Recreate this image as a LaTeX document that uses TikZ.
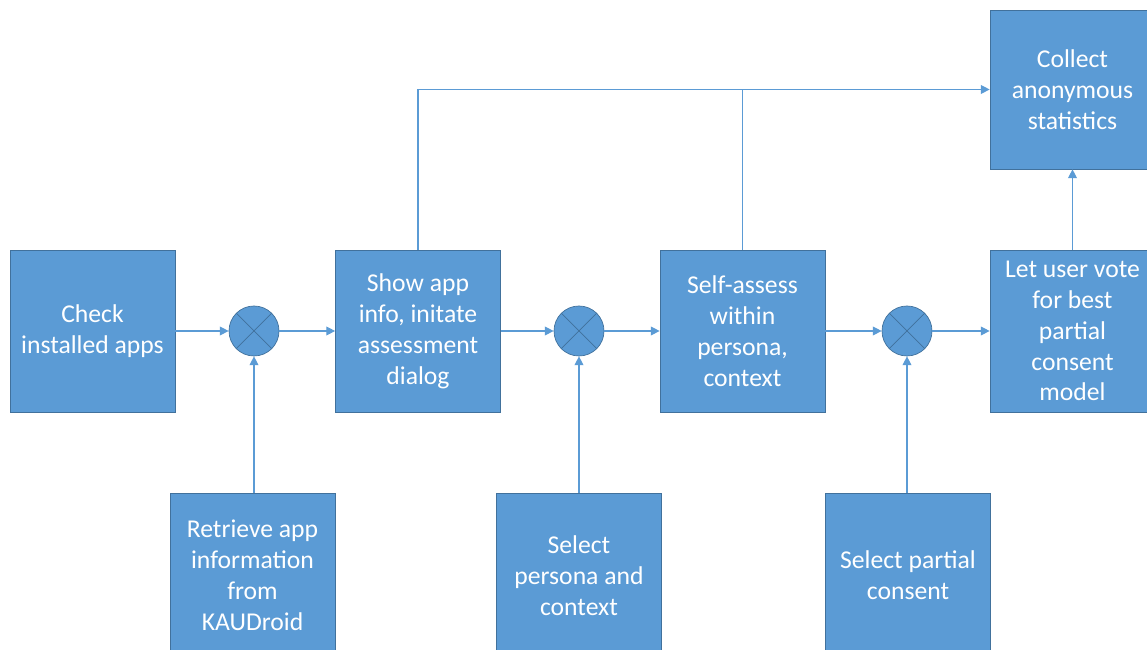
\documentclass[tikz,border=0pt]{standalone}
\usepackage{fontspec}
\setmainfont{Carlito}
\usetikzlibrary{arrows.meta}
\definecolor{boxblue}{HTML}{5B9BD5}
\definecolor{boxedge}{HTML}{41719C}
\tikzset{
  stepbox/.style={draw=boxedge, line width=0.4pt, fill=boxblue, text=white,
    minimum width=3.3cm, minimum height=3.24cm, align=center, inner sep=0pt,
    font=\fontsize{14.6}{17.6}\selectfont},
  mixer/.style={circle, draw=boxedge, line width=0.4pt, fill=boxblue,
    minimum size=1.0cm, inner sep=0pt},
  flow/.style={draw=boxblue, line width=0.6pt, -{Triangle[width=5pt,length=5pt]}},
  link/.style={draw=boxblue, line width=0.6pt}
}
\begin{document}
\begin{tikzpicture}
                \useasboundingbox (0,0) rectangle (22.940000,13.000000);
                
                % Drawing main row boxes
                \node [stepbox] (check) at (1.850000,6.380000) {Check\\installed apps};
                \node [stepbox] (show) at (8.360000,6.380000) {Show app\\info, initate\\assessment\\dialog};
                \node [stepbox] (self) at (14.850000,6.380000) {Self-assess\\within\\persona,\\context};
                \node [stepbox] (vote) at (21.450000,6.380000) {Let user vote\\for best\\partial\\consent\\model};
                
                % Drawing top box
                \node [stepbox, minimum height=3.18cm] (collect) at (21.450000,11.210000) {Collect\\anonymous\\statistics};
                
                % Drawing bottom boxes
                \node [stepbox, minimum height=3.3cm] (retrieve) at (5.050000,1.490000) {Retrieve app\\information\\from\\KAUDroid};
                \node [stepbox, minimum height=3.3cm] (persona) at (11.580000,1.490000) {Select\\persona and\\context};
                \node [stepbox, minimum height=3.3cm] (partial) at (18.160000,1.490000) {Select partial\\consent};
                
                % Drawing mixers
                \node [mixer] (mixa) at (5.080000,6.380000) {};
                \node [mixer] (mixb) at (11.580000,6.380000) {};
                \node [mixer] (mixc) at (18.140000,6.380000) {};
                \foreach \m in {mixa,mixb,mixc} {
                  \draw [boxedge, line width=0.4pt] (\m.north west) -- (\m.south east);
                  \draw [boxedge, line width=0.4pt] (\m.north east) -- (\m.south west);
                }
                
                % Drawing main flow
                \draw [flow] (check) -- (mixa);
                \draw [flow] (mixa) -- (show);
                \draw [flow] (show) -- (mixb);
                \draw [flow] (mixb) -- (self);
                \draw [flow] (self) -- (mixc);
                \draw [flow] (mixc) -- (vote);
                
                % Drawing inputs from below
                \draw [flow] (retrieve.north -| mixa) -- (mixa);
                \draw [flow] (persona) -- (mixb);
                \draw [flow] (partial.north -| mixc) -- (mixc);
                
                % Drawing statistics lines
                \draw [flow] (show.north) |- (collect.west);
                \draw [link] (self.north) -- (self.north |- collect.west);
                \draw [flow] (vote) -- (collect);
\end{tikzpicture}
\end{document}
